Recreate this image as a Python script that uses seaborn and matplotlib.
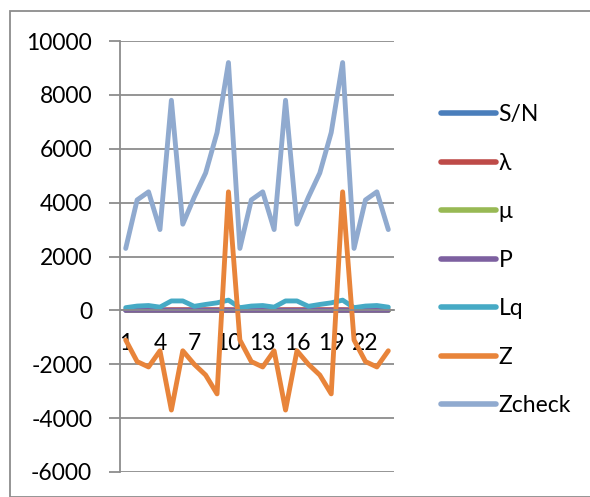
import numpy as np
import pandas as pd
import matplotlib
matplotlib.use("Agg")
import matplotlib.pyplot as plt
from matplotlib.patches import Rectangle
import seaborn as sns

# category axis: rows 1..24
rows = [1, 2, 3, 4, 5, 6, 7, 8, 9, 10, 11, 12, 13, 14, 15, 16, 17, 18, 19, 20, 21, 22, 23, 24]

sn = [1, 2, 3, 4, 5, 6, 7, 8, 9, 10, 1, 2, 3, 4, 5, 6, 7, 8, 9, 10, 1, 2, 3, 4]
lam = [20, 20, 20, 20, 25, 25, 25, 25, 25, 25, 20, 20, 20, 20, 25, 25, 25, 25, 25, 25, 20, 20, 20, 20]
mu = [30, 30, 30, 30, 30, 30, 30, 30, 30, 30, 30, 30, 30, 30, 30, 30, 30, 30, 30, 30, 30, 30, 30, 30]
p = [0.7, 0.7, 0.7, 0.7, 0.8, 0.8, 0.8, 0.8, 0.8, 0.8, 0.7, 0.7, 0.7, 0.7, 0.8, 0.8, 0.8, 0.8, 0.8, 0.8,
     0.7, 0.7, 0.7, 0.7]
lq = [100, 160, 180, 120, 350, 350, 150, 220, 280, 380, 100, 160, 180, 120, 350, 350, 150, 220, 280, 380,
      100, 160, 180, 120]
z = [-1100, -1900, -2100, -1500, -3700, -1500, -2000, -2400, -3100, 4400,
     -1100, -1900, -2100, -1500, -3700, -1500, -2000, -2400, -3100, 4400,
     -1100, -1900, -2100, -1500]
zcheck = [2300, 4100, 4400, 3000, 7800, 3200, 4200, 5100, 6600, 9200,
          2300, 4100, 4400, 3000, 7800, 3200, 4200, 5100, 6600, 9200,
          2300, 4100, 4400, 3000]

series_names = ["S/N", "λ", "μ", "P", "Lq", "Z", "Zcheck"]
series_vals = [sn, lam, mu, p, lq, z, zcheck]
colors = ["#4A7EBB", "#BE4B48", "#98B954", "#7D60A0", "#46AAC5", "#E8843A", "#90AACF"]

df = pd.concat([pd.DataFrame({"row": rows, "value": v, "series": n})
                for n, v in zip(series_names, series_vals)], ignore_index=True)

sns.set_style("white")
plt.rcParams["font.family"] = ["Lato", "DejaVu Sans"]
plt.rcParams["axes.unicode_minus"] = False
plt.rcParams["text.color"] = "black"
plt.rcParams["xtick.color"] = "black"
plt.rcParams["ytick.color"] = "black"

fig = plt.figure(figsize=(5.9, 4.97), dpi=100)
ax = fig.add_axes([120 / 590, 1 - 472 / 497, 274 / 590, 431 / 497])

# chart area border (only top/left visible in the crop)
fig.patches.append(Rectangle((10 / 590, 0), 1.2, 1 - 11 / 497, transform=fig.transFigure,
                             fill=False, edgecolor="#8C8C8C", linewidth=1.3))

sns.lineplot(data=df, x="row", y="value", hue="series", hue_order=series_names,
             palette=colors, linewidth=3.5, ax=ax, legend=False,
             solid_joinstyle="round", solid_capstyle="round")

ax.set_xlim(0.5, 24.5)
ax.set_ylim(-6000, 10000)
ax.set_yticks(np.arange(-6000, 10001, 2000))
ax.yaxis.grid(True, color="#8C8C8C", linewidth=1.3)
ax.set_axisbelow(True)
ax.set_xlabel("")
ax.set_ylabel("")

for s in ["top", "right"]:
    ax.spines[s].set_visible(False)
ax.spines["left"].set_color("#8C8C8C")
ax.spines["left"].set_linewidth(1.3)
ax.spines["bottom"].set_position(("data", 0))
ax.spines["bottom"].set_color("#8C8C8C")
ax.spines["bottom"].set_linewidth(1.3)

ax.set_xticks(rows[::3])
ax.set_xticklabels([str(r) for r in rows[::3]])
ax.set_xticks(np.arange(0.5, 25, 1), minor=True)
ax.tick_params(axis="x", which="major", length=0, pad=16, labelsize=16.5)
ax.tick_params(axis="x", which="minor", length=4, width=1.3, color="#8C8C8C", direction="out")
ax.tick_params(axis="y", which="major", left=True, length=8, width=1.3, color="#8C8C8C",
               pad=12, labelsize=16.5)

handles = [plt.Line2D([], [], color=c, linewidth=4, solid_capstyle="round") for c in colors]
fig.legend(handles, series_names, loc="upper left", bbox_to_anchor=(432 / 590, 1 - 95 / 497),
           frameon=False, fontsize=16.5, handlelength=2.4, handletextpad=0.1,
           labelspacing=1.2, borderaxespad=0)

fig.savefig("out.png", dpi=100)
